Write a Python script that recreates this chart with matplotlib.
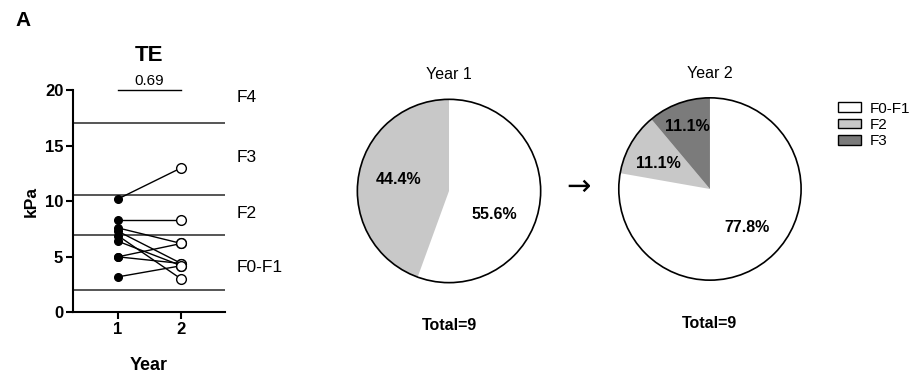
import matplotlib.pyplot as plt
from matplotlib.patches import Circle, Patch

plt.rcParams["font.family"] = ["Liberation Sans", "DejaVu Sans"]

# paired TE measurements (kPa) for the same 9 patients
te_year1 = [10.2, 8.3, 7.6, 7.3, 6.9, 6.4, 5.0, 5.0, 3.2]
te_year2 = [13.0, 8.3, 6.2, 4.4, 3.0, 4.2, 6.2, 4.4, 4.2]
years = [1, 2]
p_value = "0.69"

# fibrosis stage cut-offs (kPa) and band labels
cutoffs = [2.0, 7.0, 10.6, 17.0]
stage_names = ["F0-F1", "F2", "F3", "F4"]
stage_label_y = [4.0, 8.9, 13.9, 19.3]

# stage counts per year
pie_labels = ["F0-F1", "F2", "F3"]
counts_year1 = [5, 4, 0]
counts_year2 = [7, 1, 1]
pie_colors = ["white", "#c8c8c8", "#7b7b7b"]

fig = plt.figure(figsize=(9.17, 3.76), dpi=100)

# ---- left panel: paired dot plot
ax = fig.add_axes([0.0796, 0.169, 0.1658, 0.5918])
for y in cutoffs:
    ax.axhline(y, color="#555555", lw=1.4, zorder=1)
for a, b in zip(te_year1, te_year2):
    ax.plot(years, [a, b], color="black", lw=1.0, zorder=2)
ax.plot([years[0]] * len(te_year1), te_year1, "o", ms=5.5, color="black", zorder=3)
ax.plot([years[1]] * len(te_year2), te_year2, "o", ms=7, mfc="white",
        mec="black", mew=1.0, zorder=3)

ax.set_xlim(0.29, 2.69)
ax.set_ylim(0, 20)
ax.set_xticks(years)
ax.set_yticks([0, 5, 10, 15, 20])
for s in ["top", "right"]:
    ax.spines[s].set_visible(False)
for s in ["left", "bottom"]:
    ax.spines[s].set_linewidth(1.5)
ax.tick_params(width=1.5, length=5, labelsize=12, pad=2)
for lab in ax.get_xticklabels() + ax.get_yticklabels():
    lab.set_fontweight("bold")
ax.set_xlabel("Year", fontsize=13, fontweight="bold", labelpad=14)
ax.set_ylabel("kPa", fontsize=12.5, fontweight="bold", labelpad=4)
ax.set_title("TE", fontsize=16, fontweight="bold", pad=21)

# significance bracket
ax.plot(years, [20, 20], color="black", lw=1.0, clip_on=False)
ax.text(1.5, 20.15, p_value, ha="center", va="bottom", fontsize=11)

for name, y in zip(stage_names, stage_label_y):
    ax.text(2.88, y, name, ha="left", va="center", fontsize=12.5, clip_on=False)

fig.text(15 / 917, 1 - 20 / 376, "A", fontsize=15, fontweight="bold",
         ha="left", va="center")


def draw_pie(rect, counts, title, label_pos):
    pax = fig.add_axes(rect)
    total = sum(counts)
    wedges, _ = pax.pie(counts, colors=pie_colors, startangle=90,
                        counterclock=False, radius=1.0,
                        wedgeprops=dict(linewidth=0))
    pax.add_patch(Circle((0, 0), 1.0, fill=False, ec="black", lw=1.2))
    for c, (x, y) in zip(counts, label_pos):
        if c == 0:
            continue
        pax.text(x, y, f"{100 * c / total:.1f}%", ha="center", va="center",
                 fontsize=11.5, fontweight="bold")
    pax.set_xlim(-1.02, 1.02)
    pax.set_ylim(-1.02, 1.02)
    pax.set_aspect("equal")
    pax.axis("off")
    pax.text(0, 1.27, title, ha="center", va="center", fontsize=11.5)
    pax.text(0, -1.47, f"Total={total}", ha="center", va="center",
             fontsize=11.5, fontweight="bold")
    return pax


draw_pie([0.3877, 0.2434, 0.2039, 0.4973], counts_year1, "Year 1",
         [(0.49, -0.26), (-0.55, 0.12), (0, 0)])
draw_pie([0.6728, 0.25, 0.2028, 0.4947], counts_year2, "Year 2",
         [(0.41, -0.42), (-0.57, 0.28), (-0.25, 0.69)])

fig.text(578 / 917, 1 - 187 / 376, "→", fontsize=21, ha="center",
         va="center", family=["DejaVu Sans"])

handles = [Patch(facecolor=c, edgecolor="black", lw=1.0) for c in pie_colors]
fig.legend(handles, pie_labels, loc="upper left",
           bbox_to_anchor=(830 / 917, 1 - 94 / 376), frameon=False,
           fontsize=11, handlelength=1.5, handleheight=0.6,
           handletextpad=0.6, labelspacing=0.15, borderpad=0)

fig.savefig("out.png", dpi=100)
